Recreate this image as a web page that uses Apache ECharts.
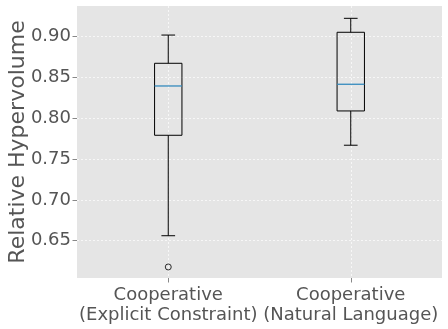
<!DOCTYPE html>
<html>
<head>
<meta charset="utf-8">
<script src="https://cdn.jsdelivr.net/npm/echarts@6/dist/echarts.min.js"></script>
<style>
  html, body { margin: 0; padding: 0; background: #fff; }
  #chart { width: 448px; height: 329px; }
</style>
</head>
<body>
<div id="chart"></div>
<script>
// box statistics per group
const categories = ["Cooperative\n(Explicit Constraint)", "Cooperative\n(Natural Language)"];
const whiskerLow = [0.6561, 0.767];
const q1 = [0.7792, 0.809];
const median = [0.8396, 0.8417];
const q3 = [0.8674, 0.9054];
const whiskerHigh = [0.902, 0.9225];
const outliers = [[0, 0.6178]];

const boxData = categories.map((c, i) => [i, whiskerLow[i], q1[i], median[i], q3[i], whiskerHigh[i]]);

const textColor = "#555555";
const font = "DejaVu Sans";

function renderBox(params, api) {
  const i = api.value(0);
  const bandW = api.size([1, 0])[0];
  const half = bandW * 0.15 / 2;
  const capHalf = half / 2;
  const pLow = api.coord([i, api.value(1)]);
  const pQ1 = api.coord([i, api.value(2)]);
  const pMed = api.coord([i, api.value(3)]);
  const pQ3 = api.coord([i, api.value(4)]);
  const pHigh = api.coord([i, api.value(5)]);
  const x = pMed[0];
  const line = { stroke: "#000", lineWidth: 1 };
  return {
    type: "group",
    children: [
      { type: "rect", shape: { x: x - half, y: pQ3[1], width: half * 2, height: pQ1[1] - pQ3[1] },
        style: { fill: "none", stroke: "#000", lineWidth: 1 } },
      { type: "line", shape: { x1: x, y1: pQ1[1], x2: x, y2: pLow[1] }, style: line },
      { type: "line", shape: { x1: x, y1: pQ3[1], x2: x, y2: pHigh[1] }, style: line },
      { type: "line", shape: { x1: x - capHalf, y1: pLow[1], x2: x + capHalf, y2: pLow[1] }, style: line },
      { type: "line", shape: { x1: x - capHalf, y1: pHigh[1], x2: x + capHalf, y2: pHigh[1] }, style: line },
      { type: "line", shape: { x1: x - half, y1: pMed[1], x2: x + half, y2: pMed[1] },
        style: { stroke: "#348ABD", lineWidth: 1.3 } }
    ]
  };
}

const gridLine = { color: "#ffffff", width: 1, type: [2, 2], opacity: 0.7 };

const chart = echarts.init(document.getElementById("chart"), null, { renderer: "canvas" });
chart.setOption({
  animation: false,
  grid: {
    left: 77, right: 6, top: 6, bottom: 51,
    containLabel: false, outerBoundsMode: "none",
    show: true, backgroundColor: "#E5E5E5", borderWidth: 0
  },
  xAxis: {
    type: "category",
    data: categories,
    axisLine: { show: false },
    axisTick: { show: true, alignWithLabel: true, length: 4.5, lineStyle: { color: "#888", width: 1 } },
    axisLabel: {
      color: textColor, fontFamily: font, fontSize: 18, lineHeight: 20, margin: 7, interval: 0
    },
    splitLine: { show: true, alignWithLabel: true, lineStyle: gridLine }
  },
  yAxis: {
    type: "value",
    min: 0.6043,
    max: 0.9376,
    splitNumber: 5,
    name: "Relative Hypervolume",
    nameLocation: "middle",
    nameGap: 48,
    nameMoveOverlap: false,
    nameTextStyle: { color: textColor, fontFamily: font, fontSize: 22 },
    axisLine: { show: false },
    axisTick: { show: true, length: 4.5, lineStyle: { color: "#888", width: 1 } },
    axisLabel: {
      color: textColor, fontFamily: font, fontSize: 18, margin: 6,
      showMinLabel: false, showMaxLabel: false,
      formatter: (v) => v.toFixed(2)
    },
    splitLine: { show: true, showMinLine: false, showMaxLine: false, lineStyle: gridLine }
  },
  series: [
    {
      type: "custom",
      renderItem: renderBox,
      data: boxData,
      encode: { x: 0, y: [1, 2, 3, 4, 5] },
      z: 3
    },
    {
      type: "scatter",
      data: outliers,
      symbol: "circle",
      symbolSize: 6,
      itemStyle: { color: "rgba(0,0,0,0)", borderColor: "#000", borderWidth: 1 },
      z: 4
    }
  ]
});
</script>
</body>
</html>
